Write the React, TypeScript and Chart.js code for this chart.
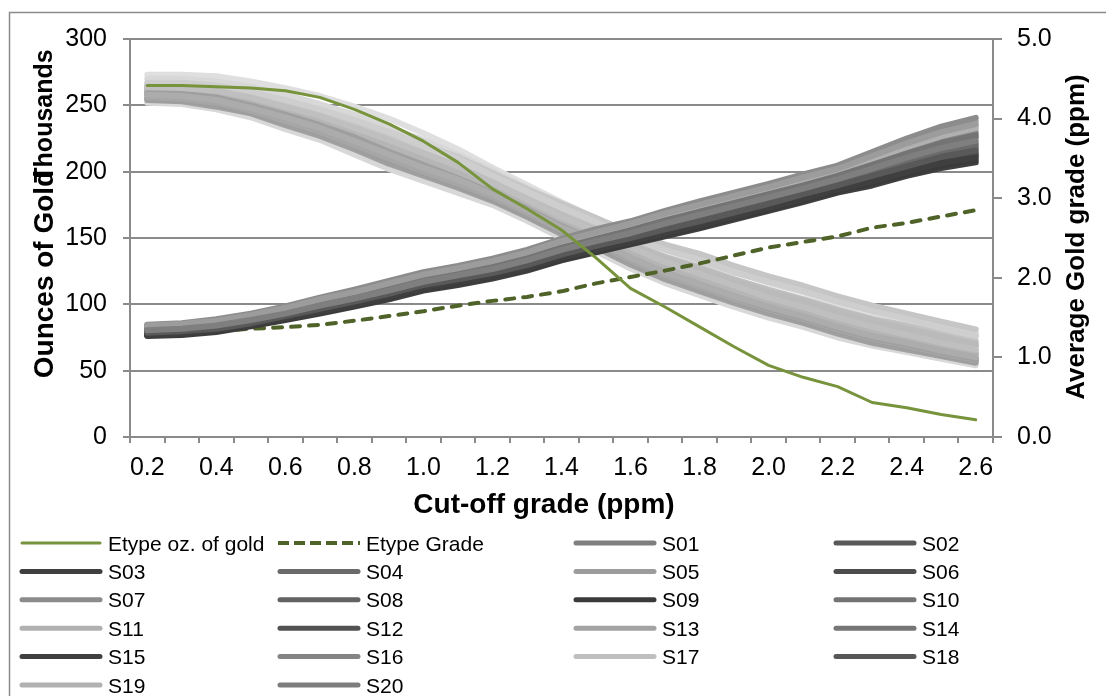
import React, { useEffect, useRef } from "react";
import { Chart, registerables } from "chart.js";

Chart.register(...registerables);

// ---------- DATA ----------
const cutoffs = ["0.2","0.3","0.4","0.5","0.6","0.7","0.8","0.9","1.0","1.1","1.2","1.3","1.4","1.5","1.6","1.7","1.8","1.9","2.0","2.1","2.2","2.3","2.4","2.5","2.6"];

// Etype ounces of gold (thousands) and average grade (ppm)
const etypeOunces = [265,265,264,263,261,256,247,236,223,207,187,172,156,135,112,98,83,68,54,45,38,26,22,17,13];
const etypeGrade = [1.30,1.31,1.33,1.36,1.38,1.41,1.46,1.52,1.58,1.65,1.71,1.76,1.83,1.93,2.01,2.09,2.18,2.28,2.38,2.45,2.52,2.63,2.69,2.77,2.85];

const seriesNames = ["S01","S02","S03","S04","S05","S06","S07","S08","S09","S10","S11","S12","S13","S14","S15","S16","S17","S18","S19","S20"];
const seriesColors = ["#7f7f7f","#595959","#3f3f3f","#6b6b6b","#9c9c9c","#4c4c4c","#8c8c8c","#636363","#3a3a3a","#747474","#b0b0b0","#525252","#a3a3a3","#767676","#404040","#858585","#bfbfbf","#575757","#b1b1b1","#7d7d7d"];

// Simulated ounces (thousands), one row per series S01..S20
const seriesOunces = [
  [264,263,261,256,249,242,233,224,214,204,192,179,166,155,143,132,123,114,105,98,90,83,77,71,66],
  [258,257,254,248,241,233,223,213,203,194,183,171,158,148,135,124,115,106,98,91,83,76,71,65,60],
  [259,259,256,250,243,235,226,215,205,195,184,172,159,148,135,124,115,106,97,90,82,75,70,64,59],
  [261,261,258,253,246,239,230,220,210,200,188,176,164,153,140,129,120,111,103,96,88,81,76,70,65],
  [267,267,265,260,254,247,239,230,220,210,197,185,173,162,150,141,133,124,117,110,102,95,89,82,76],
  [256,255,252,246,238,230,220,210,200,191,181,169,156,146,133,122,113,104,96,89,81,74,69,63,58],
  [265,265,262,258,251,245,237,229,220,211,199,187,176,165,154,145,138,129,121,114,106,99,93,87,81],
  [260,260,257,252,244,237,228,218,208,198,187,175,162,151,139,128,119,110,102,94,86,80,74,68,63],
  [255,254,251,245,237,229,219,208,199,189,179,167,155,144,132,121,112,103,95,87,80,73,68,62,57],
  [263,262,259,255,248,241,232,222,212,202,191,178,166,155,143,133,125,116,108,101,93,86,81,75,69],
  [270,270,268,264,258,251,243,233,224,213,201,188,175,164,152,142,134,125,117,110,102,95,89,83,77],
  [258,258,254,249,241,234,224,214,204,195,184,172,159,148,136,125,116,107,99,92,84,78,72,67,62],
  [266,266,263,259,252,246,238,229,219,209,197,185,173,162,151,142,135,126,118,111,103,96,90,84,78],
  [262,262,260,255,247,240,232,223,213,203,191,179,167,156,145,135,127,118,110,103,95,88,82,76,70],
  [254,253,249,244,235,227,217,206,197,188,178,166,153,143,130,119,110,101,93,86,78,71,66,61,56],
  [264,264,261,256,249,243,234,225,215,205,193,181,169,158,146,136,128,119,111,104,96,89,84,78,72],
  [273,273,272,268,263,257,249,240,229,217,203,190,177,165,153,142,134,125,116,109,100,93,87,81,75],
  [259,258,255,249,242,234,225,214,204,195,184,172,160,149,136,125,115,106,98,90,82,75,69,64,59],
  [252,251,247,241,232,224,213,202,193,184,175,163,150,140,127,116,107,98,90,83,75,69,64,59,54],
  [261,261,258,253,246,238,229,219,209,200,189,177,165,154,142,132,123,114,106,99,91,84,79,73,68],
];

// Simulated average grade (ppm), one row per series S01..S20
const seriesGrade = [
  [1.34,1.36,1.40,1.47,1.55,1.65,1.74,1.84,1.95,2.03,2.11,2.22,2.35,2.46,2.56,2.68,2.79,2.90,3.01,3.12,3.24,3.37,3.51,3.63,3.72],
  [1.31,1.33,1.36,1.43,1.52,1.61,1.70,1.80,1.91,1.98,2.06,2.16,2.29,2.40,2.50,2.61,2.71,2.82,2.93,3.05,3.16,3.28,3.40,3.52,3.60],
  [1.28,1.30,1.34,1.41,1.49,1.57,1.66,1.76,1.87,1.94,2.02,2.12,2.25,2.35,2.45,2.56,2.66,2.77,2.88,2.99,3.11,3.21,3.33,3.44,3.51],
  [1.32,1.34,1.38,1.45,1.54,1.63,1.72,1.82,1.93,2.00,2.09,2.19,2.32,2.43,2.53,2.64,2.75,2.86,2.97,3.08,3.20,3.32,3.46,3.58,3.66],
  [1.40,1.42,1.46,1.53,1.62,1.73,1.82,1.93,2.04,2.12,2.21,2.32,2.46,2.57,2.68,2.81,2.92,3.03,3.14,3.26,3.37,3.53,3.69,3.83,3.93],
  [1.29,1.31,1.35,1.42,1.50,1.58,1.67,1.77,1.88,1.95,2.03,2.14,2.26,2.36,2.47,2.57,2.68,2.79,2.90,3.01,3.13,3.24,3.36,3.47,3.54],
  [1.41,1.43,1.48,1.55,1.64,1.75,1.85,1.96,2.07,2.15,2.24,2.35,2.49,2.61,2.71,2.84,2.96,3.07,3.18,3.30,3.41,3.58,3.75,3.90,4.01],
  [1.32,1.34,1.37,1.44,1.53,1.62,1.71,1.81,1.92,1.99,2.07,2.18,2.31,2.41,2.52,2.63,2.73,2.84,2.95,3.07,3.18,3.30,3.43,3.55,3.63],
  [1.28,1.29,1.33,1.40,1.48,1.56,1.65,1.75,1.86,1.93,2.01,2.11,2.23,2.33,2.43,2.54,2.64,2.75,2.86,2.97,3.09,3.19,3.30,3.41,3.48],
  [1.36,1.38,1.42,1.49,1.57,1.67,1.77,1.87,1.98,2.06,2.14,2.25,2.38,2.49,2.60,2.72,2.83,2.94,3.05,3.16,3.28,3.42,3.56,3.69,3.79],
  [1.38,1.40,1.44,1.51,1.60,1.70,1.80,1.91,2.02,2.10,2.18,2.29,2.43,2.54,2.65,2.77,2.89,3.00,3.11,3.22,3.34,3.49,3.64,3.78,3.88],
  [1.30,1.32,1.36,1.43,1.51,1.60,1.69,1.78,1.89,1.96,2.05,2.15,2.27,2.38,2.48,2.59,2.70,2.81,2.92,3.03,3.15,3.26,3.38,3.49,3.57],
  [1.40,1.42,1.47,1.54,1.63,1.74,1.84,1.95,2.06,2.14,2.22,2.33,2.47,2.59,2.70,2.82,2.94,3.05,3.16,3.28,3.39,3.55,3.72,3.86,3.97],
  [1.35,1.37,1.41,1.48,1.56,1.66,1.76,1.86,1.97,2.04,2.13,2.23,2.37,2.48,2.58,2.70,2.81,2.92,3.03,3.14,3.26,3.39,3.54,3.66,3.76],
  [1.27,1.28,1.32,1.39,1.47,1.55,1.64,1.73,1.84,1.91,1.99,2.09,2.22,2.32,2.42,2.52,2.62,2.73,2.84,2.95,3.07,3.16,3.28,3.38,3.45],
  [1.36,1.38,1.43,1.50,1.58,1.68,1.78,1.88,1.99,2.07,2.16,2.26,2.40,2.51,2.61,2.73,2.85,2.96,3.07,3.18,3.30,3.44,3.59,3.72,3.82],
  [1.37,1.39,1.44,1.51,1.59,1.69,1.79,1.89,2.00,2.08,2.17,2.28,2.41,2.52,2.63,2.75,2.87,2.98,3.09,3.20,3.32,3.46,3.61,3.75,3.85],
  [1.29,1.31,1.34,1.42,1.50,1.58,1.68,1.77,1.88,1.95,2.04,2.13,2.26,2.37,2.46,2.57,2.68,2.79,2.90,3.01,3.12,3.24,3.35,3.46,3.54],
  [1.39,1.41,1.45,1.52,1.61,1.72,1.81,1.92,2.03,2.11,2.20,2.30,2.44,2.56,2.66,2.79,2.90,3.01,3.12,3.24,3.35,3.51,3.67,3.81,3.91],
  [1.33,1.35,1.39,1.46,1.55,1.64,1.73,1.83,1.94,2.02,2.10,2.21,2.34,2.44,2.55,2.66,2.77,2.88,2.99,3.10,3.22,3.35,3.48,3.61,3.69],
];

const yLeftTicks = { min: 0, max: 300, step: 50 };
const yRightTicks = { min: 0, max: 5, step: 1 };

// ---------- STYLE ----------
const FONT = "'Liberation Sans', Arial, sans-serif";
const GRID = "#8a8a8a";
const GREEN = "#77933c";
const DARK_GREEN = "#4f6228";

function tint(hex: string, amt: number) {
  const n = parseInt(hex.slice(1), 16);
  const r = (n >> 16) & 255, g = (n >> 8) & 255, b = n & 255;
  const m = (c: number) => Math.round(c + (255 - c) * amt);
  return `rgb(${m(r)},${m(g)},${m(b)})`;
}

const decorPlugin = {
  id: "decor",
  beforeDraw(chart: any) {
    const ctx = chart.ctx;
    ctx.save();
    ctx.strokeStyle = GRID;
    ctx.lineWidth = 1.5;
    ctx.beginPath();
    ctx.moveTo(9.5, chart.height + 5);
    ctx.lineTo(9.5, 12.5);
    ctx.lineTo(chart.width + 5, 12.5);
    ctx.stroke();
    ctx.restore();
  },
  afterDraw(chart: any) {
    const ctx = chart.ctx;
    ctx.save();
    ctx.fillStyle = "#000";
    // left titles
    ctx.textAlign = "center";
    ctx.textBaseline = "middle";
    ctx.save();
    ctx.translate(45, 274);
    ctx.rotate(-Math.PI / 2);
    ctx.font = `bold 28px ${FONT}`;
    ctx.fillText("Ounces of Gold", 0, 0);
    ctx.restore();
    ctx.save();
    ctx.translate(45, 116);
    ctx.rotate(-Math.PI / 2);
    ctx.font = `bold 25px ${FONT}`;
    ctx.fillText("Thousands", 0, 0);
    ctx.restore();
    // right title
    ctx.save();
    ctx.translate(1077, 237);
    ctx.rotate(-Math.PI / 2);
    ctx.font = `bold 26px ${FONT}`;
    ctx.fillText("Average Gold grade (ppm)", 0, 0);
    ctx.restore();
    // x title
    ctx.textBaseline = "alphabetic";
    ctx.font = `bold 28px ${FONT}`;
    ctx.fillText("Cut-off grade (ppm)", 544, 513);

    // legend
    const items: { label: string; color: string; width: number; dash: number[] | null }[] = [
      { label: "Etype oz. of gold", color: GREEN, width: 3, dash: null },
      { label: "Etype Grade", color: DARK_GREEN, width: 4, dash: [11, 5] },
      ...seriesNames.map((n, i) => ({ label: n, color: seriesColors[i], width: 5, dash: null })),
    ];
    const cols = [20, 278, 574, 834];
    ctx.font = `21px ${FONT}`;
    ctx.textAlign = "left";
    items.forEach((it, k) => {
      const c = k % 4;
      const r = Math.floor(k / 4);
      const x = cols[c];
      const y = 543 + r * 28.4;
      ctx.save();
      ctx.strokeStyle = it.color;
      ctx.lineWidth = it.width;
      if (it.dash) {
        ctx.setLineDash(it.dash);
        ctx.lineCap = "butt";
      } else {
        ctx.lineCap = "round";
      }
      ctx.beginPath();
      ctx.moveTo(x + (it.dash ? 0 : 2), y);
      ctx.lineTo(x + (it.dash ? 82 : 80), y);
      ctx.stroke();
      ctx.restore();
      ctx.fillStyle = "#000";
      ctx.fillText(it.label, x + 88, y + 7.5);
    });
    ctx.restore();
  },
};

export default function App() {
  const ref = useRef<HTMLCanvasElement | null>(null);
  useEffect(() => {
    if (!ref.current) return;
    const datasets: any[] = [];
    datasets.push({
      label: "Etype oz. of gold",
      data: etypeOunces,
      yAxisID: "y",
      borderColor: GREEN,
      borderWidth: 3,
      pointRadius: 0,
      order: 0,
      borderCapStyle: "round",
      borderJoinStyle: "round",
    });
    datasets.push({
      label: "Etype Grade",
      data: etypeGrade,
      yAxisID: "y2",
      borderColor: DARK_GREEN,
      borderWidth: 4,
      borderDash: [9, 9],
      borderCapStyle: "round",
      pointRadius: 0,
      order: 2,
    });
    seriesNames.forEach((n, i) => {
      datasets.push({
        label: n + " oz",
        data: seriesOunces[i],
        yAxisID: "y",
        borderColor: tint(seriesColors[i], 0.5),
        borderWidth: 6,
        pointRadius: 0,
        order: 3,
        borderCapStyle: "round",
        borderJoinStyle: "round",
      });
      datasets.push({
        label: n,
        data: seriesGrade[i],
        yAxisID: "y2",
        borderColor: seriesColors[i],
        borderWidth: 6,
        pointRadius: 0,
        order: 1,
        borderCapStyle: "round",
        borderJoinStyle: "round",
      });
    });

    const tickFont = { family: FONT, size: 25 };
    const chart = new Chart(ref.current, {
      type: "line",
      data: { labels: cutoffs, datasets },
      plugins: [decorPlugin],
      options: {
        animation: false,
        responsive: false,
        devicePixelRatio: 1,
        layout: { padding: { top: 39, left: 0, right: 0, bottom: 0 } },
        plugins: { legend: { display: false }, tooltip: { enabled: false } },
        elements: { line: { tension: 0 } },
        scales: {
          x: {
            type: "category",
            offset: true,
            grid: { display: true, drawOnChartArea: false, drawTicks: true, tickLength: 6, offset: true, color: GRID, lineWidth: 2 },
            border: { display: true, color: GRID, width: 2 },
            ticks: {
              autoSkip: false,
              maxRotation: 0,
              minRotation: 0,
              padding: 10,
              color: "#000",
              font: tickFont,
              callback: function (this: any, v: any, i: number) {
                return i % 2 === 0 ? cutoffs[i] : "";
              },
            },
            afterFit: (s: any) => { s.height = 259; },
          },
          y: {
            position: "left",
            min: yLeftTicks.min,
            max: yLeftTicks.max,
            ticks: { stepSize: yLeftTicks.step, padding: 16, color: "#000", font: tickFont },
            grid: { color: GRID, lineWidth: 2, tickLength: 7, drawTicks: true },
            border: { display: true, color: GRID, width: 2 },
            afterFit: (s: any) => { s.width = 130; },
          },
          y2: {
            position: "right",
            min: yRightTicks.min,
            max: yRightTicks.max,
            ticks: { stepSize: yRightTicks.step, padding: 15, color: "#000", font: tickFont, callback: (v: any) => Number(v).toFixed(1) },
            grid: { drawOnChartArea: false, tickLength: 9, color: GRID, lineWidth: 2 },
            border: { display: true, color: GRID, width: 2 },
            afterFit: (s: any) => { s.width = 113; },
          },
        },
      },
    } as any);
    return () => chart.destroy();
  }, []);
  return (
    <canvas
      ref={ref}
      width={1106}
      height={696}
      style={{ position: "fixed", left: 0, top: 0, width: 1106, height: 696 }}
    />
  );
}
